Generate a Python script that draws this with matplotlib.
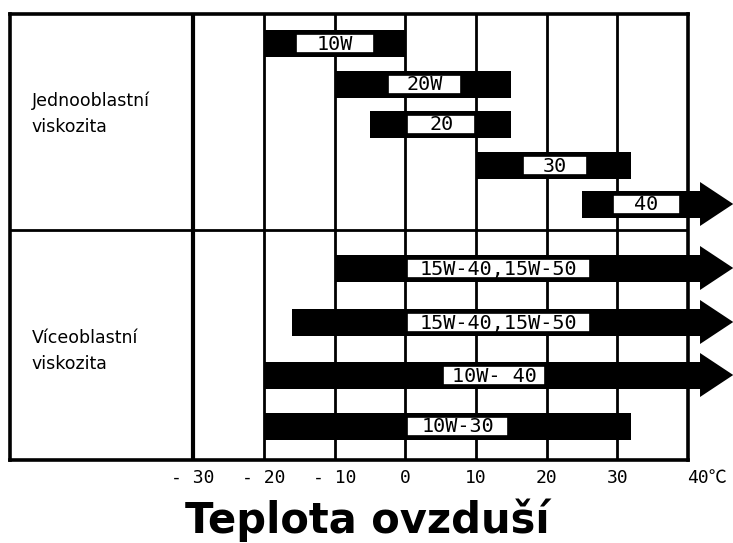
import matplotlib
matplotlib.use("Agg")
import matplotlib.pyplot as plt
from matplotlib.patches import Rectangle, Polygon

# oil grades and their temperature ranges (degC)
grades = ["10W", "20W", "20", "30", "40",
          "15W-40,15W-50", "15W-40,15W-50", "10W- 40", "10W-30"]
t_lo = [-20, -10, -5, 10, 25, -10, -16, -20, -20]
t_hi = [0, 15, 15, 32, 40, 40, 40, 40, 32]
open_end = [False, False, False, False, True, True, True, True, False]
# white label boxes inside the bars
box_lo = [-15.5, -2.5, 0.3, 16.7, 29.4, 0.3, 0.3, 5.4, 0.3]
box_hi = [-4.4, 7.9, 9.9, 25.7, 38.8, 26.2, 26.2, 19.8, 14.6]

ticks = [-30, -20, -10, 0, 10, 20, 30, 40]
tick_labels = ["- 30", "- 20", "- 10", "0", "10", "20", "30", "40℃"]
groups = ["Jednooblastní\nviskozita", "Víceoblastní\nviskozita"]
xlabel = "Teplota ovzduší"

# layout (y in pixel-like units, top = 14, bottom = 460)
row_y = [43, 84, 124, 165, 204, 268, 322, 375, 426]
group_y = [114, 351]
divider_y = 230
bar_h = 27
box_h = 19

mono = ["DejaVu Sans Mono", "Noto Sans CJK SC"]

fig = plt.figure(figsize=(7.33, 5.43), dpi=100)
ax = fig.add_axes([10 / 733, 83 / 543, 678 / 733, 446 / 543])
x_left = -55.9
ax.set_xlim(x_left, 40)
ax.set_ylim(460, 14)
ax.set_xticks([])
ax.set_yticks([])
for s in ax.spines.values():
    s.set_linewidth(2.6)
    s.set_color("black")

# grid
for t in ticks[:-1]:
    ax.axvline(t, color="black", lw=3 if t == -30 else 2, zorder=1)
ax.axhline(divider_y, color="black", lw=2, zorder=1)

for i, name in enumerate(grades):
    y = row_y[i]
    ax.add_patch(Rectangle((t_lo[i], y - bar_h / 2), t_hi[i] - t_lo[i], bar_h,
                           facecolor="black", edgecolor="none", zorder=2, clip_on=False))
    if open_end[i]:
        ax.add_patch(Rectangle((40, y - bar_h / 2), 1.8, bar_h,
                               facecolor="black", edgecolor="none", zorder=2, clip_on=False))
        ax.add_patch(Polygon([(41.7, y - 22), (46.4, y), (41.7, y + 22)], closed=True,
                             facecolor="black", edgecolor="none", zorder=2, clip_on=False))
    ax.add_patch(Rectangle((box_lo[i], y - box_h / 2), box_hi[i] - box_lo[i], box_h,
                           facecolor="white", edgecolor="black", lw=1.2, zorder=3))
    ax.text((box_lo[i] + box_hi[i]) / 2, y + 1, name, ha="center", va="center",
            family=mono, fontsize=14.5, zorder=4)

for g, y in zip(groups, group_y):
    ax.text(x_left + 3.1, y, g, ha="left", va="center", fontsize=12.5,
            family="DejaVu Sans", linespacing=1.6)

for t, lab in zip(ticks, tick_labels):
    dx = 2.7 if t == 40 else 0
    ax.text(t + dx, 469, lab, ha="center", va="top", family=mono,
            fontsize=13, clip_on=False)

fig.text(367 / 733, 1 - 520 / 543, xlabel, ha="center", va="center",
         fontsize=30, fontweight="bold", family="DejaVu Sans")

fig.savefig("out.png", dpi=100)
